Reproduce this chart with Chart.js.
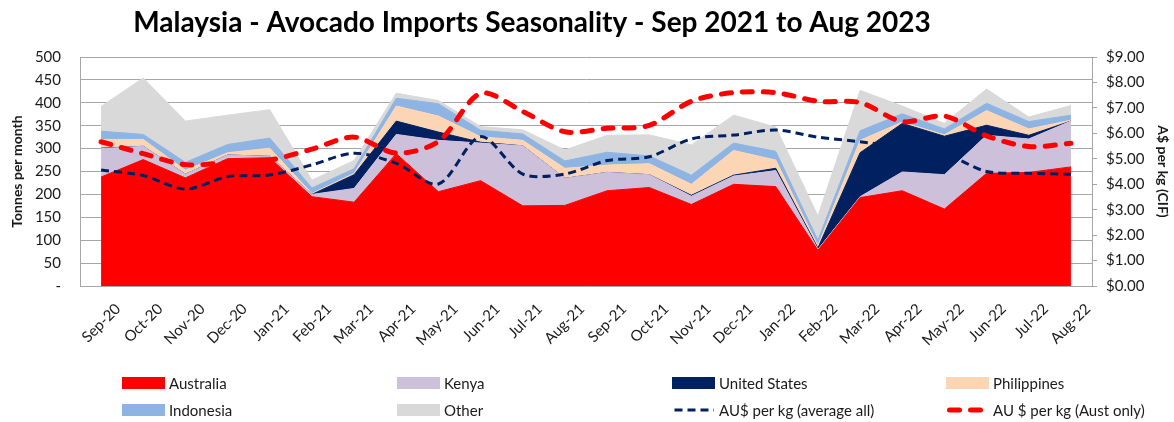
<!DOCTYPE html>
<html><head><meta charset="utf-8">
<script src="https://cdn.jsdelivr.net/npm/chart.js@4"></script>
<style>
html,body{margin:0;padding:0;background:#fff;}
#wrap{position:relative;width:1174px;height:422px;font-family:Lato,sans-serif;}
#cv{position:absolute;left:0;top:0;}
.li{position:absolute;font-size:15px;color:#1a1a1a;display:flex;align-items:center;height:16px;white-space:nowrap;}
.sw{width:43px;height:12px;margin-right:4px;}
.li svg{margin-right:4px;}
</style></head><body>
<div id="wrap"><canvas id="cv" width="1174" height="422"></canvas><div id="legend"></div></div>
<script>
const TITLE = 'Malaysia - Avocado Imports Seasonality - Sep 2021 to Aug 2023';
const LABELS = ['Sep-20','Oct-20','Nov-20','Dec-20','Jan-21','Feb-21','Mar-21','Apr-21','May-21','Jun-21','Jul-21','Aug-21',
  'Sep-21','Oct-21','Nov-21','Dec-21','Jan-22','Feb-22','Mar-22','Apr-22','May-22','Jun-22','Jul-22','Aug-22'];

// tonnes per month, stacked in this order
const AUSTRALIA   = [238,276,236,278,280,195,183,289,206,230,175,176,208,215,178,222,217,78,193,208,168,246,248,260];
const KENYA       = [62,29,8,8,3,5,30,42,112,82,131,59,40,28,18,18,35,2,2,41,75,83,73,100];
const USA         = [1,0,0,0,0,0,30,29,18,2,0,0,0,0,2,2,5,3,96,106,84,22,8,0];
const PHILIPPINES = [19,15,9,5,18,2,3,33,35,12,12,22,16,24,24,54,18,5,27,3,3,32,14,2];
const INDONESIA   = [18,11,17,18,22,12,10,17,27,14,14,16,28,17,20,16,19,12,21,18,13,16,16,11];
const OTHER       = [54,123,90,64,62,17,18,11,7,8,9,24,37,46,66,61,53,53,88,17,12,31,10,21];

// A$ per kg
const AVG_ALL   = [4.56,4.34,3.81,4.30,4.36,4.76,5.22,4.82,4.01,5.87,4.40,4.40,4.93,5.08,5.78,5.93,6.13,5.85,5.67,5.45,5.20,4.50,4.43,4.39];
const AUST_ONLY = [5.67,5.20,4.77,4.85,4.95,5.38,5.85,5.22,5.68,7.57,6.86,6.06,6.20,6.31,7.26,7.60,7.60,7.26,7.21,6.46,6.68,5.90,5.48,5.61];

const LEFT_MAX = 500, LEFT_STEP = 50;
const RIGHT_MAX = 9, RIGHT_STEP = 1;

const AREAS = [
  ['Australia', AUSTRALIA, '#ff0000'],
  ['Kenya', KENYA, '#ccc0da'],
  ['United States', USA, '#002060'],
  ['Philippines', PHILIPPINES, '#fcd5b5'],
  ['Indonesia', INDONESIA, '#8db4e2'],
  ['Other', OTHER, '#d9d9d9'],
];
const LINES = [
  ['AU$ per kg (average all)', AVG_ALL, '#002060', 3, [8, 5], 'butt'],
  ['AU $ per kg (Aust only)', AUST_ONLY, '#ff0000', 5, [10, 11], 'round'],
];

Chart.defaults.font.family = 'Lato, sans-serif';
Chart.defaults.color = '#1a1a1a';
const GRID = '#a6a6a6';

const datasets = AREAS.map((a, i) => ({
  label: a[0], data: a[1], type: 'line', yAxisID: 'y', order: 1,
  backgroundColor: a[2], borderColor: a[2], borderWidth: 1,
  pointRadius: 0, fill: i === 0 ? 'origin' : '-1', tension: 0
})).concat(LINES.map(l => ({
  label: l[0], data: l[1], type: 'line', yAxisID: 'y1', order: 0,
  borderColor: l[2], borderWidth: l[3], borderDash: l[4], borderCapStyle: l[5],
  pointRadius: 0, fill: false, tension: 0.3
})));

const titlePlugin = {
  id: 'mainTitle',
  afterDraw(c) {
    const ctx = c.ctx; ctx.save();
    ctx.font = 'bold 28px Lato'; ctx.fillStyle = '#000';
    ctx.textAlign = 'center'; ctx.textBaseline = 'middle';
    ctx.fillText(TITLE, 532, 23); ctx.restore();
  }
};

new Chart(document.getElementById('cv'), {
  type: 'line',
  data: {labels: LABELS, datasets},
  plugins: [titlePlugin],
  options: {
    responsive: false, animation: false,
    layout: {padding: {top: 57, bottom: 62, left: 0, right: 0}},
    plugins: {legend: {display: false}, tooltip: {enabled: false}},
    scales: {
      x: {
        offset: true,
        grid: {display: false},
        border: {color: GRID},
        ticks: {autoSkip: false, minRotation: 45, maxRotation: 45, font: {size: 15}, padding: 6, labelOffset: 17},
        afterFit(s) { s.height = 74; }
      },
      y: {
        stacked: true, min: 0, max: LEFT_MAX,
        ticks: {stepSize: LEFT_STEP, font: {size: 15}, padding: 19, callback: v => v === 0 ? '-' : v},
        grid: {color: GRID, drawTicks: false},
        border: {color: GRID},
        title: {display: true, text: 'Tonnes per month', font: {size: 14, weight: 'bold'}, padding: {top: 9, bottom: 0}},
        afterFit(s) { s.width = 80; }
      },
      y1: {
        position: 'right', min: 0, max: RIGHT_MAX,
        ticks: {stepSize: RIGHT_STEP, font: {size: 15}, padding: 9, callback: v => '$' + v.toFixed(2)},
        grid: {drawOnChartArea: false, tickLength: 5, color: GRID},
        border: {color: GRID},
        title: {display: true, text: 'A$ per kg (CIF)', font: {size: 14, weight: 'bold'}, padding: {top: 3, bottom: 0}},
        afterFit(s) { s.width = 82; }
      }
    }
  }
});

// legend, 4 columns x 2 rows like the original
const COLS = [122, 397, 672, 946], ROWS = [383, 410];
const items = AREAS.map(a => ({name: a[0], color: a[2]})).concat(LINES.map(l => ({name: l[0], color: l[2], line: l})));
const $leg = document.getElementById('legend');
$leg.innerHTML = items.map((it, i) => {
  const x = COLS[i % 4], y = ROWS[Math.floor(i / 4)] - 8;
  const sw = it.line
    ? `<svg width="43" height="12"><line x1="${it.line[3] / 2 + 1}" y1="6" x2="42" y2="6" stroke="${it.color}" stroke-width="${it.line[3]}" stroke-dasharray="${it.line[4].join(',')}" stroke-linecap="${it.line[5]}"/></svg>`
    : `<span class="sw" style="background:${it.color}"></span>`;
  return `<div class="li" style="left:${x}px;top:${y}px">${sw}${it.name}</div>`;
}).join('');
</script>
</body></html>
